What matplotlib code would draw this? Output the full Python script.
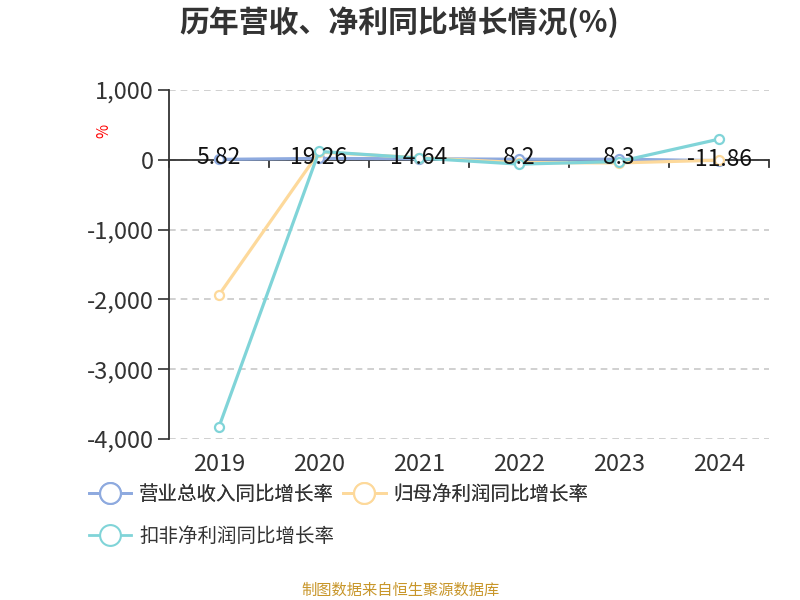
import matplotlib
matplotlib.use("Agg")
import matplotlib.pyplot as plt
from matplotlib.lines import Line2D
import numpy as np

plt.rcParams['font.family'] = ['Noto Sans CJK SC', 'DejaVu Sans']

years = ['2019', '2020', '2021', '2022', '2023', '2024']
revenue_growth = [5.82, 19.26, 14.64, 8.2, 8.3, -11.86]
net_profit_growth = [-1934, 110, 30, -40, -45, -5]
deducted_profit_growth = [-3825, 120, 25, -62, -25, 296]
series_names = ['营业总收入同比增长率', '归母净利润同比增长率', '扣非净利润同比增长率']
yticks = [1000, 0, -1000, -2000, -3000, -4000]

colors = ['#8eaadf', '#fdd99b', '#80d4d8']

fig = plt.figure(figsize=(8, 6), dpi=100)
ax = fig.add_axes([169/800, 1-439/600, 600/800, 349/600])

x = np.arange(len(years))
for vals, c in zip([revenue_growth, net_profit_growth, deducted_profit_growth], colors):
    ax.plot(x, vals, color=c, lw=2.3, marker='o', ms=6.5, mfc='white', mec=c, mew=1.6,
            solid_capstyle='round', zorder=3)

for xi, v in zip(x, revenue_growth):
    ax.text(xi, v + 20, f'{v:g}', ha='center', va='center', fontsize=16.5, color='#111111', zorder=4)

ax.set_xlim(-0.5, len(years) - 0.5)
ax.set_ylim(-4000, 1000)
ax.set_yticks(yticks)
ax.set_yticklabels([f'{t:,}' for t in yticks], fontsize=17, color='#333333')
ax.grid(axis='y', color='#c8c8c8', ls=(0, (4, 3)), lw=1.2)
ax.set_axisbelow(True)

for s in ['top', 'right', 'bottom']:
    ax.spines[s].set_visible(False)
ax.spines['left'].set_color('#333333')
ax.spines['left'].set_linewidth(1.3)
ax.tick_params(axis='y', length=8, width=1.2, color='#333333', pad=3)

# x axis at zero
ax.axhline(0, color='#333333', lw=1.3, zorder=2)
ax.set_xticks([])
for b in np.arange(-0.5, len(years), 1.0):
    ax.plot([b, b], [0, -100], color='#333333', lw=1.3, zorder=2, clip_on=False)
for xi, y in zip(x, years):
    ax.text(xi, -4370, y, ha='center', va='center', fontsize=17, color='#333333')

fig.text(104/800, 1-131/600, '%', color='red', fontsize=11, rotation=90, ha='center', va='center')

fig.text(399/800, 1-22/600, '历年营收、净利同比增长情况(%)', ha='center', va='center',
         fontsize=21.5, fontweight='bold', color='#333333')

handles = [Line2D([0], [0], color=c, lw=2, marker='o', ms=15, mfc='white', mec=c, mew=1.5)
           for c in colors]
leg1 = fig.legend(handles[:2], series_names[:2], loc='center left', bbox_to_anchor=(71/800, 1-494/600),
                  ncol=2, frameon=False, fontsize=14, handlelength=2.2, handletextpad=0.4,
                  columnspacing=0.45, labelcolor='#333333')
leg2 = fig.legend(handles[2:], series_names[2:], loc='center left', bbox_to_anchor=(71/800, 1-536/600),
                  frameon=False, fontsize=14, handlelength=2.2, handletextpad=0.4, labelcolor='#333333')
fig.add_artist(leg1)

fig.text(400/800, 1-590/600, '制图数据来自恒生聚源数据库', ha='center', va='center', fontsize=11,
         color='#c8962a')

fig.savefig('out.png', dpi=100)
